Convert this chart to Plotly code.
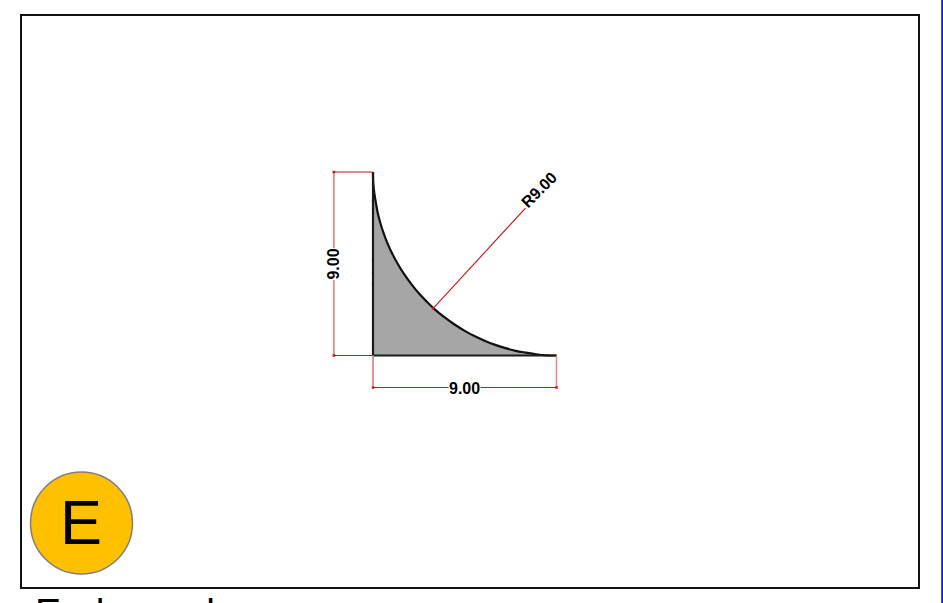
import plotly.graph_objects as go

# Profile outline (drawing units)
arc_x = [0, 0.01, 0.06, 0.14, 0.23, 0.36, 0.52, 0.71, 0.94, 1.21, 1.52, 1.88, 2.29, 2.64, 3.0, 3.5, 4.0, 4.5, 5.0, 5.5, 6.0, 6.5, 7.0, 7.5, 8.0, 8.5, 9.0]
arc_y = [9.0, 8.5, 8.0, 7.5, 7.0, 6.5, 6.0, 5.5, 5.0, 4.5, 4.0, 3.5, 3.0, 2.64, 2.29, 1.88, 1.52, 1.21, 0.94, 0.71, 0.52, 0.36, 0.23, 0.14, 0.06, 0.01, 0]
corner_x = [0, 0]
corner_y = [0, 9.0]
edge_x = [0, 0, 9.0]
edge_y = [9.0, 0, 0]

# Dimension geometry
left_dim_x = [0, -1.92, -1.92, 0]
left_dim_y = [9.0, 9.0, 0, 0]
bottom_dim_x = [0, 0, 9.0, 9.0]
bottom_dim_y = [0, -1.57, -1.57, 0]
leader_x = [2.95, 7.48]
leader_y = [2.31, 7.23]
tick_x = [-0.08, 0]
tick_y = [4.72, 4.08, 3.49]

dim_labels = ["9.00", "9.00", "R9.00"]
dim_label_x = [-1.92, 4.5, 8.17]
dim_label_y = [4.5, -1.62, 8.12]
dim_label_angle = [-90, 0, -45]
badge_label = "E"
footer_label = "End round"

W, H = 943, 603
SCALE = 183.5 / 9
RED = "#C4161C"
PINK = "#E08A8C"


def px(x):
    return x / W


def py(y):
    return 1 - y / H


fig = go.Figure()
fig.add_trace(go.Scatter(
    x=arc_x + corner_x, y=arc_y + corner_y, mode="lines",
    line=dict(color="rgba(0,0,0,0)", width=0), fill="toself", fillcolor="#A6A6A6",
    hoverinfo="skip", showlegend=False))
for ty in tick_y:
    fig.add_trace(go.Scatter(x=tick_x, y=[ty, ty], mode="lines", line=dict(color="#BBBBBB", width=0.8),
                             hoverinfo="skip", showlegend=False))
fig.add_trace(go.Scatter(x=arc_x, y=arc_y, mode="lines", line=dict(color="#111111", width=2.2, shape="spline"),
                         hoverinfo="skip", showlegend=False))
fig.add_trace(go.Scatter(x=edge_x, y=edge_y, mode="lines", line=dict(color="#1A1A1A", width=2.2),
                         hoverinfo="skip", showlegend=False))
for xs, ys, colour, lw in [(left_dim_x[:2], left_dim_y[:2], RED, 1.2), (left_dim_x[1:3], left_dim_y[1:3], PINK, 1.8),
                           (left_dim_x[2:], left_dim_y[2:], RED, 1.2), (bottom_dim_x[:2], bottom_dim_y[:2], PINK, 1.8),
                           (bottom_dim_x[1:3], bottom_dim_y[1:3], RED, 1.2), (bottom_dim_x[2:], bottom_dim_y[2:], PINK, 1.5)]:
    fig.add_trace(go.Scatter(x=xs, y=ys, mode="lines", line=dict(color=colour, width=lw),
                             hoverinfo="skip", showlegend=False))
fig.add_trace(go.Scatter(x=leader_x, y=leader_y, mode="lines", line=dict(color=RED, width=1.1),
                         hoverinfo="skip", showlegend=False))
fig.add_trace(go.Scatter(
    x=[left_dim_x[1], left_dim_x[2], bottom_dim_x[1], bottom_dim_x[2], leader_x[0]],
    y=[left_dim_y[1], left_dim_y[2], bottom_dim_y[1], bottom_dim_y[2], leader_y[0]],
    mode="markers", marker=dict(color=RED, size=2.5, symbol="square"),
    hoverinfo="skip", showlegend=False))

annotations = [
    dict(x=x, y=y, xref="x", yref="y", text=f"<b>{t}</b>", textangle=a, showarrow=False,
         bgcolor="rgba(255,255,255,1)" if a != -45 else "rgba(0,0,0,0)", borderpad=0,
         font=dict(family="Liberation Sans", size=16, color="black"))
    for t, x, y, a in zip(dim_labels, dim_label_x, dim_label_y, dim_label_angle)
]
annotations.append(dict(x=px(81), y=py(522), xref="paper", yref="paper", text=badge_label,
                        showarrow=False, xanchor="center", yanchor="middle",
                        font=dict(family="Liberation Sans", size=63, color="black")))
annotations.append(dict(x=px(33), y=py(589), xref="paper", yref="paper", text=footer_label,
                        showarrow=False, xanchor="left", yanchor="top",
                        font=dict(family="Liberation Sans", size=39, color="black")))

shapes = [
    dict(type="rect", xref="paper", yref="paper", x0=px(21), x1=px(919), y0=py(588), y1=py(15),
         line=dict(color="#111111", width=2), layer="below"),
    dict(type="circle", xref="paper", yref="paper", x0=px(30.5), x1=px(132.5), y0=py(574), y1=py(472),
         fillcolor="#FFC000", line=dict(color="#7F7F7F", width=1.5)),
    dict(type="line", xref="paper", yref="paper", x0=px(942.2), x1=px(942.2), y0=0, y1=1,
         line=dict(color="#1414E6", width=2)),
]

fig.update_layout(
    width=W, height=H, margin=dict(l=0, r=0, t=0, b=0), autosize=False,
    paper_bgcolor="white", plot_bgcolor="white", showlegend=False,
    xaxis=dict(visible=False, range=[-373 / SCALE, (W - 373) / SCALE], fixedrange=True),
    yaxis=dict(visible=False, range=[(355.5 - H) / SCALE, 355.5 / SCALE], fixedrange=True),
    annotations=annotations, shapes=shapes,
)
fig.write_html("out.html", config={"displayModeBar": False},
               post_script="document.body.style.margin='0';document.body.style.overflow='hidden';")
